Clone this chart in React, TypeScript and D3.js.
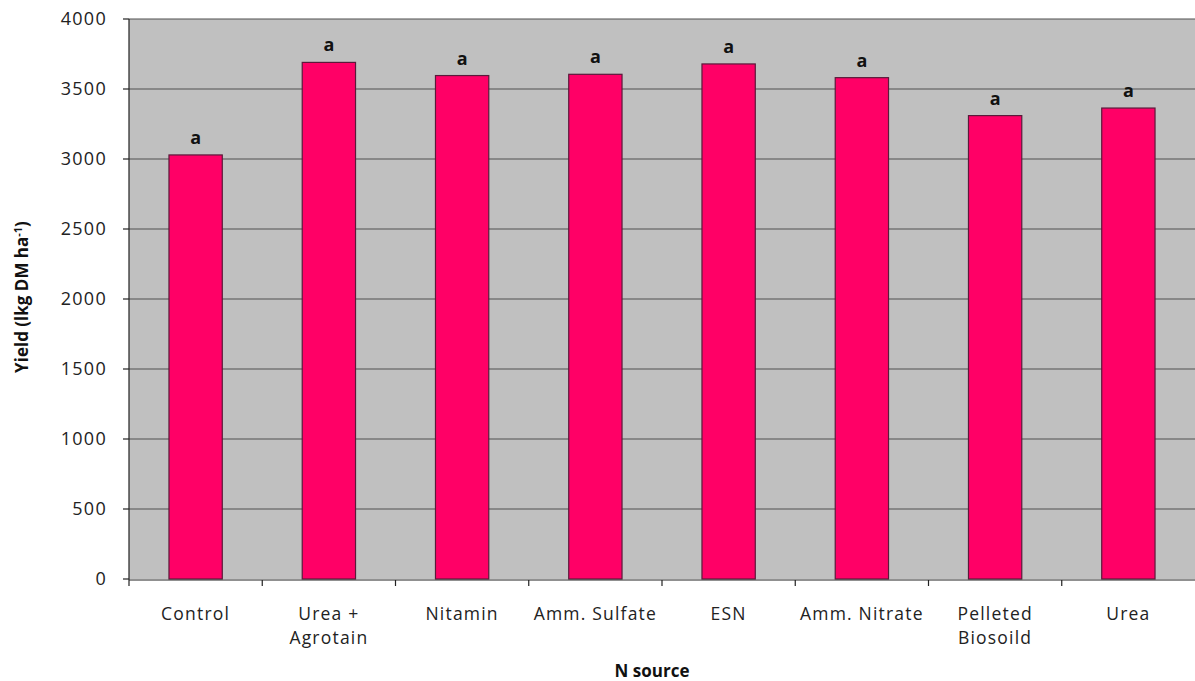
import React from "react";
import * as d3 from "d3";

const categories: string[][] = [
  ["Control"],
  ["Urea +", "Agrotain"],
  ["Nitamin"],
  ["Amm. Sulfate"],
  ["ESN"],
  ["Amm. Nitrate"],
  ["Pelleted", "Biosoild"],
  ["Urea"],
];
const yields: number[] = [3029, 3690, 3596, 3605, 3679, 3581, 3310, 3364];
const letters: string[] = ["a", "a", "a", "a", "a", "a", "a", "a"];
const yTicks: number[] = [0, 500, 1000, 1500, 2000, 2500, 3000, 3500, 4000];

const W = 1195;
const H = 681;
const left = 129;
const right = 1195;
const top = 19;
const bottom = 579;

export default function App() {
  const keys = categories.map((c) => c.join(" "));
  const x = d3.scaleBand<string>().domain(keys).range([left, right]).paddingInner(0.6).paddingOuter(0.3);
  const xb = d3.scaleBand<string>().domain(keys).range([left, right]);
  const y = d3.scaleLinear().domain([0, 4000]).range([bottom, top]);
  const font = "'Open Sans', 'DejaVu Sans', sans-serif";

  return (
    <svg
      width={W}
      height={H}
      style={{ position: "absolute", left: 0, top: 0, background: "#fff" }}
      fontFamily={font}
    >
      <rect x={left} y={top} width={right - left} height={bottom - top} fill="#C0C0C0" />
      {yTicks.filter((t) => t > 0).map((t) => (
        <line key={t} x1={left} x2={right} y1={y(t)} y2={y(t)} stroke="#505050" strokeWidth={1.2} />
      ))}
      {keys.map((k, i) => (
        <g key={k}>
          <rect
            x={x(k)}
            y={y(yields[i])}
            width={x.bandwidth()}
            height={y(0) - y(yields[i])}
            fill="#FF0066"
            stroke="#5a1a3a"
            strokeWidth={1.2}
          />
          <text
            x={x(k)! + x.bandwidth() / 2}
            y={y(yields[i]) - 11}
            textAnchor="middle"
            fontSize={18}
            fontWeight="bold"
            fill="#111"
          >
            {letters[i]}
          </text>
        </g>
      ))}
      {/* y axis */}
      <line x1={left} x2={left} y1={top} y2={bottom + 1} stroke="#222" strokeWidth={1.2} />
      {yTicks.map((t) => (
        <g key={t}>
          <line x1={left - 6} x2={left} y1={y(t)} y2={y(t)} stroke="#222" strokeWidth={1.2} />
          <text x={107} y={y(t)} dy="0.36em" textAnchor="end" fontSize={18} letterSpacing={1.3} fill="#222">
            {t}
          </text>
        </g>
      ))}
      {/* x axis */}
      <line x1={left} x2={right} y1={bottom + 1} y2={bottom + 1} stroke="#222" strokeWidth={1.2} />
      {keys.map((k) => (
        <line key={k} x1={xb(k)} x2={xb(k)} y1={bottom + 1} y2={bottom + 7} stroke="#222" strokeWidth={1.2} />
      ))}
      {categories.map((lines, i) => (
        <text
          key={keys[i]}
          x={xb(keys[i])! + xb.bandwidth() / 2}
          y={620}
          textAnchor="middle"
          fontSize={17.5}
          fill="#222"
          letterSpacing={1.2}
        >
          {lines.map((l, j) => (
            <tspan key={j} x={xb(keys[i])! + xb.bandwidth() / 2} dy={j === 0 ? 0 : 24}>
              {l}
            </tspan>
          ))}
        </text>
      ))}
      <text x={652} y={677} textAnchor="middle" fontSize={17} fontWeight="bold" fill="#111">
        N source
      </text>
      <text
        transform={`translate(28, 297) rotate(-90)`}
        textAnchor="middle"
        fontSize={17}
        fontWeight="bold"
        fill="#111"
      >
        Yield (lkg DM ha
        <tspan dy={-6} fontSize={11}>-1</tspan>
        <tspan dy={6}>)</tspan>
      </text>
    </svg>
  );
}
